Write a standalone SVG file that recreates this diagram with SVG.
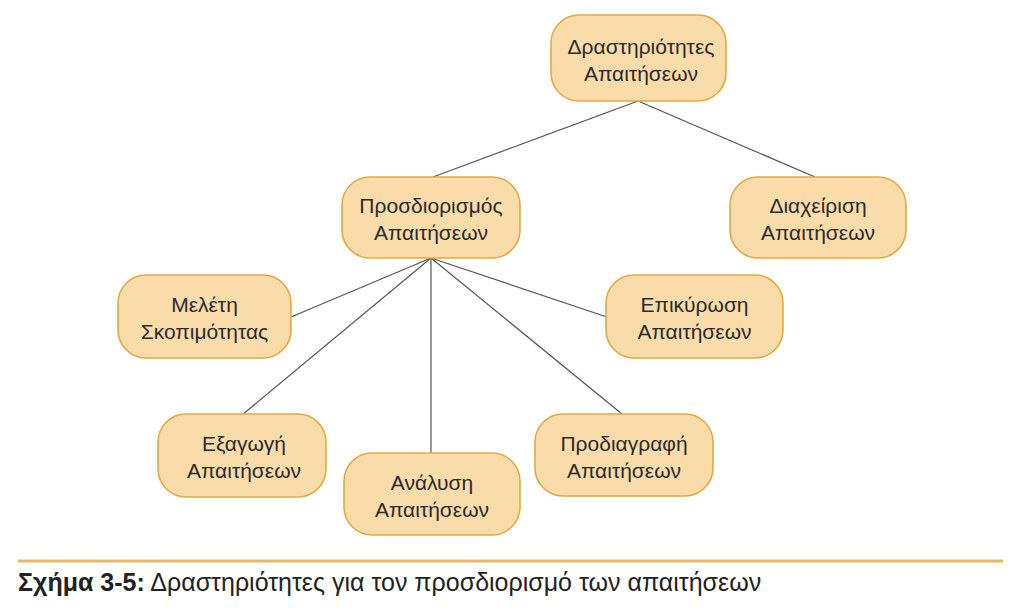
<svg xmlns="http://www.w3.org/2000/svg" width="1023" height="610" viewBox="0 0 1023 610">
<style>
.box{fill:#f9dcaa;stroke:#e4a940;stroke-width:1.6}
.lbl{font-family:"Liberation Sans",Arial,sans-serif;font-size:21px;fill:#2b2b2b;text-anchor:middle}
.conn{stroke:#555;stroke-width:1.2;fill:none}
.cap{font-family:"Liberation Sans",Arial,sans-serif;font-size:25px;fill:#222}
</style>
<rect width="1023" height="610" fill="#fff"/>
<g id="connectors">
<line class="conn" x1="638" y1="101" x2="433" y2="177"/>
<line class="conn" x1="638" y1="101" x2="815" y2="177"/>
<line class="conn" x1="431" y1="258" x2="291" y2="317"/>
<line class="conn" x1="431" y1="258" x2="242" y2="415"/>
<line class="conn" x1="431" y1="258" x2="431" y2="453"/>
<line class="conn" x1="431" y1="258" x2="622" y2="414"/>
<line class="conn" x1="431" y1="258" x2="607" y2="317"/>
</g>
<g id="n-top"><rect class="box" x="551" y="15" width="175" height="86" rx="28"/><text class="lbl" x="641" y="54">Δραστηριότητες</text><text class="lbl" x="641" y="81">Απαιτήσεων</text></g>
<g id="n-prosd"><rect class="box" x="342" y="177" width="178" height="81" rx="28"/><text class="lbl" x="431" y="213">Προσδιορισμός</text><text class="lbl" x="431" y="240">Απαιτήσεων</text></g>
<g id="n-diax"><rect class="box" x="730" y="177" width="176" height="81" rx="28"/><text class="lbl" x="818" y="213">Διαχείριση</text><text class="lbl" x="818" y="240">Απαιτήσεων</text></g>
<g id="n-melet"><rect class="box" x="118" y="275" width="173" height="83" rx="28"/><text class="lbl" x="204.5" y="312">Μελέτη</text><text class="lbl" x="204.5" y="339">Σκοπιμότητας</text></g>
<g id="n-epik"><rect class="box" x="606" y="275" width="177" height="83" rx="28"/><text class="lbl" x="694.5" y="312">Επικύρωση</text><text class="lbl" x="694.5" y="339">Απαιτήσεων</text></g>
<g id="n-exag"><rect class="box" x="158" y="414" width="168" height="83" rx="28"/><text class="lbl" x="244" y="451">Εξαγωγή</text><text class="lbl" x="244" y="478">Απαιτήσεων</text></g>
<g id="n-anal"><rect class="box" x="344" y="453" width="176" height="82" rx="28"/><text class="lbl" x="432" y="490">Ανάλυση</text><text class="lbl" x="432" y="517">Απαιτήσεων</text></g>
<g id="n-prodiag"><rect class="box" x="535" y="414" width="178" height="82" rx="28"/><text class="lbl" x="624" y="451">Προδιαγραφή</text><text class="lbl" x="624" y="478">Απαιτήσεων</text></g>
<line x1="18" y1="561" x2="1003" y2="561" stroke="#e8b868" stroke-width="3"/>
<text class="cap" x="18" y="591"><tspan font-weight="bold">Σχήμα 3-5:</tspan> Δραστηριότητες για τον προσδιορισμό των απαιτήσεων</text>
</svg>
